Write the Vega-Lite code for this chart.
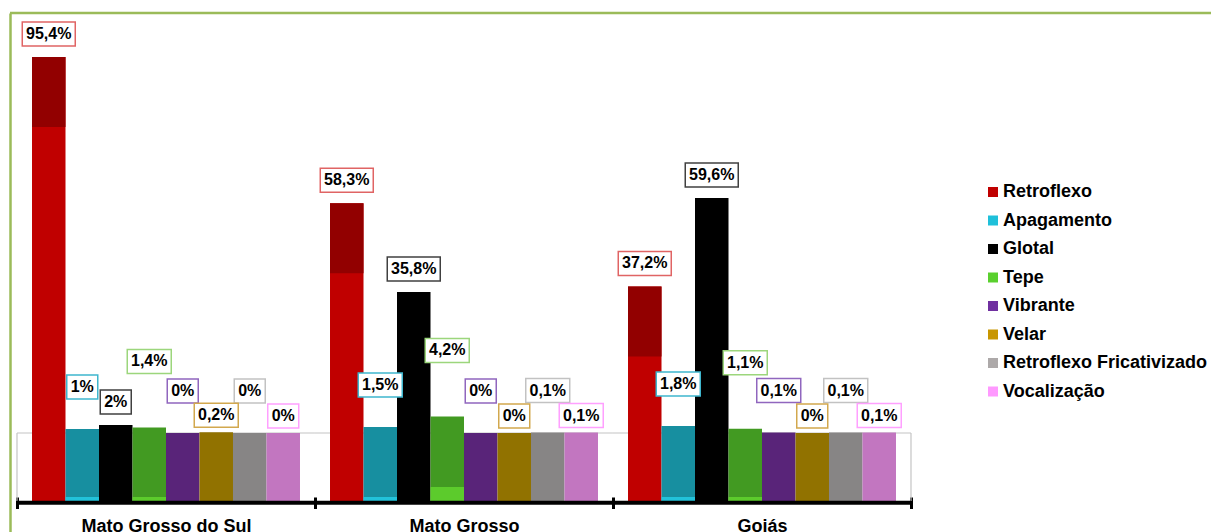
{
  "$schema": "https://vega.github.io/schema/vega-lite/v6.json",
  "width": 1201,
  "height": 519,
  "padding": {"left": 10, "top": 13, "right": 0, "bottom": 0},
  "autosize": {"type": "none"},
  "background": "white",
  "config": {
    "view": {"stroke": null},
    "font": "Liberation Sans",
    "axis": {"grid": false},
    "axisY": {"labels": false, "ticks": false, "grid": false, "domainColor": "#9BBB59", "domainWidth": 2.5},
    "axisX": {"offset": -35, "domain": false, "ticks": true, "tickBand": "extent", "tickSize": 11.5, "tickWidth": 3, "tickColor": "#000000", "labelFontSize": 18, "labelFont": "Liberation Sans", "labelFontWeight": "bold", "labelColor": "#000000", "labelPadding": 9, "labelAngle": 0, "grid": false}
  },
  "data": {"values": [
    {"group": "Mato Grosso do Sul", "category": "Retroflexo", "value": 95.4, "label": "95,4%"},
    {"group": "Mato Grosso do Sul", "category": "Apagamento", "value": 1, "label": "1%"},
    {"group": "Mato Grosso do Sul", "category": "Glotal", "value": 2, "label": "2%"},
    {"group": "Mato Grosso do Sul", "category": "Tepe", "value": 1.4, "label": "1,4%"},
    {"group": "Mato Grosso do Sul", "category": "Vibrante", "value": 0, "label": "0%"},
    {"group": "Mato Grosso do Sul", "category": "Velar", "value": 0.2, "label": "0,2%"},
    {"group": "Mato Grosso do Sul", "category": "Retroflexo Fricativizado", "value": 0, "label": "0%"},
    {"group": "Mato Grosso do Sul", "category": "Vocalização", "value": 0, "label": "0%"},
    {"group": "Mato Grosso", "category": "Retroflexo", "value": 58.3, "label": "58,3%"},
    {"group": "Mato Grosso", "category": "Apagamento", "value": 1.5, "label": "1,5%"},
    {"group": "Mato Grosso", "category": "Glotal", "value": 35.8, "label": "35,8%"},
    {"group": "Mato Grosso", "category": "Tepe", "value": 4.2, "label": "4,2%"},
    {"group": "Mato Grosso", "category": "Vibrante", "value": 0, "label": "0%"},
    {"group": "Mato Grosso", "category": "Velar", "value": 0, "label": "0%"},
    {"group": "Mato Grosso", "category": "Retroflexo Fricativizado", "value": 0.1, "label": "0,1%"},
    {"group": "Mato Grosso", "category": "Vocalização", "value": 0.1, "label": "0,1%"},
    {"group": "Goiás", "category": "Retroflexo", "value": 37.2, "label": "37,2%"},
    {"group": "Goiás", "category": "Apagamento", "value": 1.8, "label": "1,8%"},
    {"group": "Goiás", "category": "Glotal", "value": 59.6, "label": "59,6%"},
    {"group": "Goiás", "category": "Tepe", "value": 1.1, "label": "1,1%"},
    {"group": "Goiás", "category": "Vibrante", "value": 0.1, "label": "0,1%"},
    {"group": "Goiás", "category": "Velar", "value": 0, "label": "0%"},
    {"group": "Goiás", "category": "Retroflexo Fricativizado", "value": 0.1, "label": "0,1%"},
    {"group": "Goiás", "category": "Vocalização", "value": 0.1, "label": "0,1%"}
  ]},
  "layer": [
    {
      "data": {"values": [{}]},
      "mark": {"type": "rule", "color": "#9BBB59", "strokeWidth": 2.5},
      "encoding": {"y": {"datum": 106.57, "type": "quantitative", "title": null, "scale": {"domain": [-25.12, 106.57], "nice": false, "zero": false}}}
    },
    {
      "transform": [{"filter": {"field": "category", "equal": "Retroflexo"}}],
      "mark": {"type": "bar", "color": "#C4C4C4"},
      "encoding": {
        "x": {"field": "group", "type": "nominal", "title": null, "scale": {"type": "band", "domain": ["Mato Grosso do Sul", "Mato Grosso", "Goiás"], "paddingInner": 0, "paddingOuter": 0.5151, "align": 0.0228}},
        "y": {"datum": 0.12, "type": "quantitative", "title": null, "scale": {"domain": [-25.12, 106.57], "nice": false, "zero": false}},
        "y2": {"datum": -0.14}
      }
    },
    {
      "data": {"values": [{}]},
      "mark": {"type": "rule", "color": "#C4C4C4", "strokeWidth": 1.2},
      "encoding": {
        "x": {"datum": "Mato Grosso do Sul", "type": "nominal", "bandPosition": 0, "title": null, "scale": {"type": "band", "domain": ["Mato Grosso do Sul", "Mato Grosso", "Goiás"], "paddingInner": 0, "paddingOuter": 0.5151, "align": 0.0228}},
        "y": {"datum": 0, "type": "quantitative", "title": null, "scale": {"domain": [-25.12, 106.57], "nice": false, "zero": false}},
        "y2": {"datum": -17.25}
      }
    },
    {
      "data": {"values": [{}]},
      "mark": {"type": "rule", "color": "#C4C4C4", "strokeWidth": 1.2},
      "encoding": {
        "x": {"datum": "Goiás", "type": "nominal", "bandPosition": 1, "title": null, "scale": {"type": "band", "domain": ["Mato Grosso do Sul", "Mato Grosso", "Goiás"], "paddingInner": 0, "paddingOuter": 0.5151, "align": 0.0228}},
        "y": {"datum": 0, "type": "quantitative", "title": null, "scale": {"domain": [-25.12, 106.57], "nice": false, "zero": false}},
        "y2": {"datum": -17.25}
      }
    },
    {
      "encoding": {
        "x": {"field": "group", "type": "nominal", "title": null, "scale": {"type": "band", "domain": ["Mato Grosso do Sul", "Mato Grosso", "Goiás"], "paddingInner": 0, "paddingOuter": 0.5151, "align": 0.0228}},
        "xOffset": {"field": "category", "type": "nominal", "scale": {"type": "band", "domain": ["Retroflexo", "Apagamento", "Glotal", "Tepe", "Vibrante", "Velar", "Retroflexo Fricativizado", "Vocalização"], "paddingInner": 0, "paddingOuter": 0.448}},
        "y": {"field": "value", "type": "quantitative", "title": null, "scale": {"domain": [-25.12, 106.57], "nice": false, "zero": false}}
      },
      "layer": [
        {
          "mark": {"type": "bar"},
          "encoding": {
            "y2": {"datum": -17.25},
            "fill": {"field": "category", "type": "nominal", "legend": null, "scale": {"domain": ["Vocalização", "Retroflexo Fricativizado", "Velar", "Vibrante", "Tepe", "Glotal", "Apagamento", "Retroflexo"], "range": ["#C276C0", "#878585", "#917200", "#592479", "#429A22", "#000000", "#178FA0", "#C00000"]}}
          }
        },
        {
          "transform": [{"filter": {"field": "category", "equal": "Retroflexo"}}],
          "mark": {"type": "tick", "orient": "horizontal", "color": "#920000", "opacity": 1, "thickness": 70, "size": 33.5, "yOffset": 35}
        },
        {
          "transform": [{"filter": {"field": "category", "equal": "Apagamento"}}],
          "mark": {"type": "tick", "orient": "horizontal", "color": "#22C2DA", "opacity": 1, "thickness": 4, "size": 33.5, "yOffset": -2},
          "encoding": {"y": {"datum": -17.25, "type": "quantitative", "title": null, "scale": {"domain": [-25.12, 106.57], "nice": false, "zero": false}}}
        },
        {
          "transform": [{"filter": {"field": "category", "equal": "Tepe"}}, {"filter": {"field": "group", "oneOf": ["Mato Grosso do Sul", "Goiás"]}}],
          "mark": {"type": "tick", "orient": "horizontal", "color": "#5CCB2C", "opacity": 1, "thickness": 4, "size": 33.5, "yOffset": -2},
          "encoding": {"y": {"datum": -17.25, "type": "quantitative", "title": null, "scale": {"domain": [-25.12, 106.57], "nice": false, "zero": false}}}
        },
        {
          "transform": [{"filter": {"field": "category", "equal": "Tepe"}}, {"filter": {"field": "group", "equal": "Mato Grosso"}}],
          "mark": {"type": "tick", "orient": "horizontal", "color": "#5CCB2C", "opacity": 1, "thickness": 14, "size": 33.5, "yOffset": -7},
          "encoding": {"y": {"datum": -17.25, "type": "quantitative", "title": null, "scale": {"domain": [-25.12, 106.57], "nice": false, "zero": false}}}
        }
      ]
    },
    {
      "transform": [{"filter": {"field": "category", "equal": "Retroflexo"}}],
      "mark": {"type": "bar", "color": "#000000"},
      "encoding": {
        "x": {"field": "group", "type": "nominal", "title": null, "scale": {"type": "band", "domain": ["Mato Grosso do Sul", "Mato Grosso", "Goiás"], "paddingInner": 0, "paddingOuter": 0.5151, "align": 0.0228}},
        "y": {"datum": -17.2, "type": "quantitative", "title": null, "scale": {"domain": [-25.12, 106.57], "nice": false, "zero": false}},
        "y2": {"datum": -18.2}
      }
    },
    {
      "mark": {"type": "square", "size": 0, "opacity": 1},
      "encoding": {
        "x": {"field": "group", "type": "nominal", "title": null, "scale": {"type": "band", "domain": ["Mato Grosso do Sul", "Mato Grosso", "Goiás"], "paddingInner": 0, "paddingOuter": 0.5151, "align": 0.0228}},
        "y": {"field": "value", "type": "quantitative", "title": null, "scale": {"domain": [-25.12, 106.57], "nice": false, "zero": false}},
        "color": {
          "field": "category", "type": "nominal",
          "scale": {"domain": ["Retroflexo", "Apagamento", "Glotal", "Tepe", "Vibrante", "Velar", "Retroflexo Fricativizado", "Vocalização"], "range": ["#C00000", "#1FC0DA", "#000000", "#5AD02E", "#7030A0", "#C89600", "#ADA9A9", "#FF99FF"]},
          "legend": {"orient": "none", "legendX": 974, "legendY": 170, "title": null, "padding": 0, "symbolType": "square", "symbolSize": 100, "symbolOpacity": 1, "symbolStrokeWidth": 0, "labelFontSize": 18, "labelFont": "Liberation Sans", "labelFontWeight": "bold", "labelColor": "#000000", "labelLimit": 400, "labelOffset": 1, "rowPadding": 10.5}
        }
      }
    },
    {
      "encoding": {
        "x": {"field": "group", "type": "nominal", "title": null, "scale": {"type": "band", "domain": ["Mato Grosso do Sul", "Mato Grosso", "Goiás"], "paddingInner": 0, "paddingOuter": 0.5151, "align": 0.0228}},
        "xOffset": {"field": "category", "type": "nominal", "scale": {"type": "band", "domain": ["Retroflexo", "Apagamento", "Glotal", "Tepe", "Vibrante", "Velar", "Retroflexo Fricativizado", "Vocalização"], "paddingInner": 0, "paddingOuter": 0.448}},
        "y": {"field": "value", "type": "quantitative", "title": null, "scale": {"domain": [-25.12, 106.57], "nice": false, "zero": false}},
        "stroke": {"field": "category", "type": "nominal", "legend": null, "scale": {"domain": ["Glotal", "Retroflexo", "Apagamento", "Tepe", "Vibrante", "Velar", "Retroflexo Fricativizado", "Vocalização"], "range": ["#404040", "#E06464", "#3FB6CE", "#9CD67C", "#9066BE", "#D2A84E", "#C2C2C2", "#FFA0FF"]}}
      },
      "layer": [
        {
          "transform": [{"filter": {"field": "category", "oneOf": ["Retroflexo", "Glotal"]}}, {"filter": "length(datum.label) == 5"}],
          "mark": {"type": "tick", "orient": "horizontal", "fill": "#FFFFFF", "opacity": 1, "strokeWidth": 1.5, "thickness": 24, "size": 53, "yOffset": -23}
        },
        {
          "transform": [{"filter": {"field": "category", "oneOf": ["Retroflexo", "Glotal"]}}, {"filter": "length(datum.label) == 2"}],
          "mark": {"type": "tick", "orient": "horizontal", "fill": "#FFFFFF", "opacity": 1, "strokeWidth": 1.5, "thickness": 24, "size": 31, "yOffset": -23}
        },
        {
          "transform": [{"filter": {"field": "category", "oneOf": ["Apagamento", "Vibrante", "Retroflexo Fricativizado"]}}, {"filter": "length(datum.label) == 2"}],
          "mark": {"type": "tick", "orient": "horizontal", "fill": "#FFFFFF", "opacity": 1, "strokeWidth": 1.5, "thickness": 24, "size": 31, "yOffset": -42}
        },
        {
          "transform": [{"filter": {"field": "category", "oneOf": ["Apagamento", "Vibrante", "Retroflexo Fricativizado"]}}, {"filter": "length(datum.label) == 4"}],
          "mark": {"type": "tick", "orient": "horizontal", "fill": "#FFFFFF", "opacity": 1, "strokeWidth": 1.5, "thickness": 24, "size": 44, "yOffset": -42}
        },
        {
          "transform": [{"filter": {"field": "category", "oneOf": ["Tepe"]}}, {"filter": "length(datum.label) == 4"}],
          "mark": {"type": "tick", "orient": "horizontal", "fill": "#FFFFFF", "opacity": 1, "strokeWidth": 1.5, "thickness": 24, "size": 44, "yOffset": -66}
        },
        {
          "transform": [{"filter": {"field": "category", "oneOf": ["Velar", "Vocalização"]}}, {"filter": "length(datum.label) == 4"}],
          "mark": {"type": "tick", "orient": "horizontal", "fill": "#FFFFFF", "opacity": 1, "strokeWidth": 1.5, "thickness": 24, "size": 44, "yOffset": -17}
        },
        {
          "transform": [{"filter": {"field": "category", "oneOf": ["Velar", "Vocalização"]}}, {"filter": "length(datum.label) == 2"}],
          "mark": {"type": "tick", "orient": "horizontal", "fill": "#FFFFFF", "opacity": 1, "strokeWidth": 1.5, "thickness": 24, "size": 31, "yOffset": -17}
        }
      ]
    },
    {
      "encoding": {
        "x": {"field": "group", "type": "nominal", "title": null, "scale": {"type": "band", "domain": ["Mato Grosso do Sul", "Mato Grosso", "Goiás"], "paddingInner": 0, "paddingOuter": 0.5151, "align": 0.0228}},
        "xOffset": {"field": "category", "type": "nominal", "scale": {"type": "band", "domain": ["Retroflexo", "Apagamento", "Glotal", "Tepe", "Vibrante", "Velar", "Retroflexo Fricativizado", "Vocalização"], "paddingInner": 0, "paddingOuter": 0.448}},
        "y": {"field": "value", "type": "quantitative", "title": null, "scale": {"domain": [-25.12, 106.57], "nice": false, "zero": false}},
        "text": {"field": "label", "type": "nominal"}
      },
      "layer": [
        {
          "transform": [{"filter": {"field": "category", "oneOf": ["Retroflexo", "Glotal"]}}],
          "mark": {"type": "text", "font": "Liberation Sans", "fontSize": 16, "fontWeight": "bold", "color": "#000000", "align": "center", "baseline": "middle", "yOffset": -23}
        },
        {
          "transform": [{"filter": {"field": "category", "oneOf": ["Apagamento", "Vibrante", "Retroflexo Fricativizado"]}}],
          "mark": {"type": "text", "font": "Liberation Sans", "fontSize": 16, "fontWeight": "bold", "color": "#000000", "align": "center", "baseline": "middle", "yOffset": -42}
        },
        {
          "transform": [{"filter": {"field": "category", "oneOf": ["Tepe"]}}],
          "mark": {"type": "text", "font": "Liberation Sans", "fontSize": 16, "fontWeight": "bold", "color": "#000000", "align": "center", "baseline": "middle", "yOffset": -66}
        },
        {
          "transform": [{"filter": {"field": "category", "oneOf": ["Velar", "Vocalização"]}}],
          "mark": {"type": "text", "font": "Liberation Sans", "fontSize": 16, "fontWeight": "bold", "color": "#000000", "align": "center", "baseline": "middle", "yOffset": -17}
        }
      ]
    }
  ]
}
